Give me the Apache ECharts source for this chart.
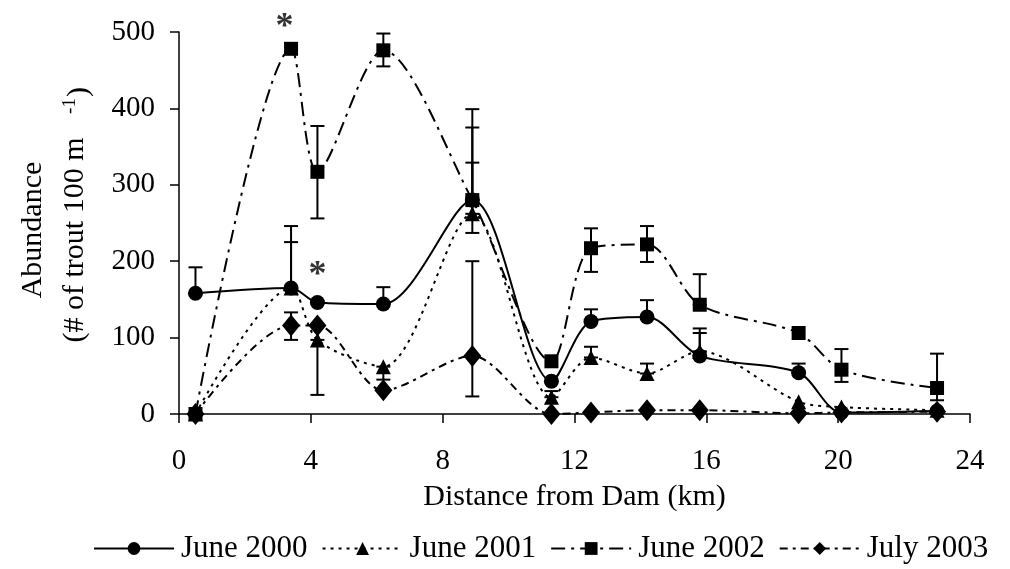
<!DOCTYPE html>
<html>
<head>
<meta charset="utf-8">
<title>Trout abundance</title>
<script src="https://cdn.jsdelivr.net/npm/echarts@6/dist/echarts.min.js"></script>
<style>
  html, body { margin: 0; padding: 0; background: #fff; }
  #chart { width: 1010px; height: 569px; }
</style>
</head>
<body>
<div id="chart"></div>
<script>
// distance of each site from the dam (km)
var distKm = [0.5, 3.4, 4.2, 6.2, 8.9, 11.3, 12.5, 14.2, 15.8, 18.8, 20.1, 23.0];

// abundance (# of trout 100 m-1), one value per site
var june2000 = [158, 165, 146, 144, 280, 43, 121, 127, 76, 54, 2, 4];
var june2001 = [0, 165, 97, 62, 262, 22, 74, 53, 82, 16, 9, 5];
var june2002 = [0, 478, 317, 476, 280, 69, 217, 222, 143, 106, 58, 34];
var july2003 = [0, 116, 116, 31, 76, 0, 2, 5, 5, 1, 2, 3];

// error bars: [distance, low end, high end]
var err2000 = [[0.5, 158, 192], [3.4, 165, 246], [6.2, 144, 166], [8.9, 280, 329], [12.5, 121, 137], [14.2, 127, 149], [15.8, 76, 106], [18.8, 54, 66]];
var err2001 = [[3.4, 165, 225], [4.2, 25, 97], [6.2, 45, 62], [8.9, 262, 375], [11.3, 22, 30], [12.5, 74, 88], [14.2, 53, 66], [15.8, 82, 112]];
var err2002 = [[4.2, 256, 377], [6.2, 455, 498], [8.9, 237, 399], [12.5, 186, 243], [14.2, 199, 246], [15.8, 143, 183], [20.1, 42, 85], [23.0, 18, 79]];
var err2003 = [[3.4, 97, 133], [8.9, 23, 200]];

// significance marks
var starX = [3.2, 4.2];
var starY = [510, 185];

var xTicks = [0, 4, 8, 12, 16, 20, 24];

var FONT = '"Liberation Serif", "Times New Roman", serif';

function pairs(ys){
  var out = [];
  for(var i=0;i<distKm.length;i++) out.push([distKm[i], ys[i]]);
  return out;
}

function errSeries(data){
  return {
    type: 'custom',
    data: data,
    z: 1,
    silent: true,
    clip: false,
    encode: { x: 0, y: [1, 2] },
    renderItem: function(params, api){
      var lo = api.coord([api.value(0), api.value(1)]);
      var hi = api.coord([api.value(0), api.value(2)]);
      var w = 7;
      var st = { stroke: '#000', lineWidth: 2 };
      return { type: 'group', children: [
        { type: 'line', shape: { x1: lo[0], y1: lo[1], x2: hi[0], y2: hi[1] }, style: st },
        { type: 'line', shape: { x1: lo[0]-w, y1: lo[1], x2: lo[0]+w, y2: lo[1] }, style: st },
        { type: 'line', shape: { x1: hi[0]-w, y1: hi[1], x2: hi[0]+w, y2: hi[1] }, style: st }
      ]};
    }
  };
}

function lineSeries(name, ys, symbol, size, dash){
  return {
    name: name,
    type: 'line',
    data: pairs(ys),
    smooth: 0.3,
    z: 3,
    symbol: symbol,
    symbolSize: size,
    showAllSymbol: true,
    itemStyle: { color: '#000' },
    lineStyle: { color: '#000', width: 2, type: dash },
    emphasis: { disabled: true },
    animation: false
  };
}

var stars = [];
for(var s=0;s<starX.length;s++) stars.push([starX[s], starY[s]]);

var chart = echarts.init(document.getElementById('chart'));
chart.setOption({
  backgroundColor: '#fff',
  animation: false,
  grid: { left: 179, right: 40, top: 32, bottom: 155 },
  legend: {
    data: ['June 2000', 'June 2001', 'June 2002', 'July 2003'],
    left: 93, top: 533, right: 0, padding: 0,
    itemWidth: 80, itemHeight: 16, itemGap: 14,
    textStyle: { fontFamily: FONT, fontSize: 31, color: '#000', padding: [0, 0, 0, 2] }
  },
  xAxis: {
    type: 'value', min: 0, max: 24, interval: 4,
    name: 'Distance from Dam (km)', nameLocation: 'middle', nameGap: 68,
    nameTextStyle: { fontFamily: FONT, fontSize: 30, color: '#000' },
    axisLine: { lineStyle: { color: '#000', width: 1.5 } },
    axisTick: { inside: false, length: 9, lineStyle: { color: '#000', width: 1.5 } },
    axisLabel: { margin: 33, fontFamily: FONT, fontSize: 29, color: '#000',
      formatter: function(v){ return xTicks.indexOf(v) >= 0 ? String(v) : ''; } },
    splitLine: { show: false }
  },
  yAxis: {
    type: 'value', min: 0, max: 500, interval: 100,
    axisLine: { show: true, lineStyle: { color: '#000', width: 1.5 } },
    axisTick: { show: true, inside: false, length: 9, lineStyle: { color: '#000', width: 1.5 } },
    axisLabel: { margin: 24, fontFamily: FONT, fontSize: 29, color: '#000' },
    splitLine: { show: false }
  },
  graphic: [
    { type: 'text', x: 33, y: 230, rotation: Math.PI/2,
      style: { text: 'Abundance', fontFamily: FONT, fontSize: 30, fill: '#000', align: 'center', verticalAlign: 'middle' } },
    { type: 'text', x: 75, y: 240, rotation: Math.PI/2,
      style: { text: '(# of trout 100 m', fontFamily: FONT, fontSize: 30, fill: '#000', align: 'center', verticalAlign: 'middle' } },
    { type: 'text', x: 70, y: 106, rotation: Math.PI/2,
      style: { text: '-1', fontFamily: FONT, fontSize: 19, fill: '#000', align: 'center', verticalAlign: 'middle' } },
    { type: 'text', x: 79, y: 92, rotation: Math.PI/2,
      style: { text: ')', fontFamily: FONT, fontSize: 30, fill: '#000', align: 'center', verticalAlign: 'middle' } }
  ],
  series: [
    errSeries(err2000), errSeries(err2001), errSeries(err2002), errSeries(err2003),
    lineSeries('June 2000', june2000, 'circle', 15, 'solid'),
    lineSeries('June 2001', june2001, 'triangle', 15, [3, 5]),
    lineSeries('June 2002', june2002, 'rect', 14, [14, 6, 3, 6]),
    lineSeries('July 2003', july2003, 'diamond', [18, 22], [8, 5, 3, 5]),
    {
      type: 'scatter', data: stars, symbolSize: 1, silent: true, clip: false, z: 4,
      itemStyle: { color: 'rgba(0,0,0,0)' },
      label: { show: true, position: 'inside', formatter: '*', fontFamily: FONT, fontSize: 36, fontWeight: 'bold', color: '#000', offset: [0, 3] }
    }
  ]
});
</script>
</body>
</html>
